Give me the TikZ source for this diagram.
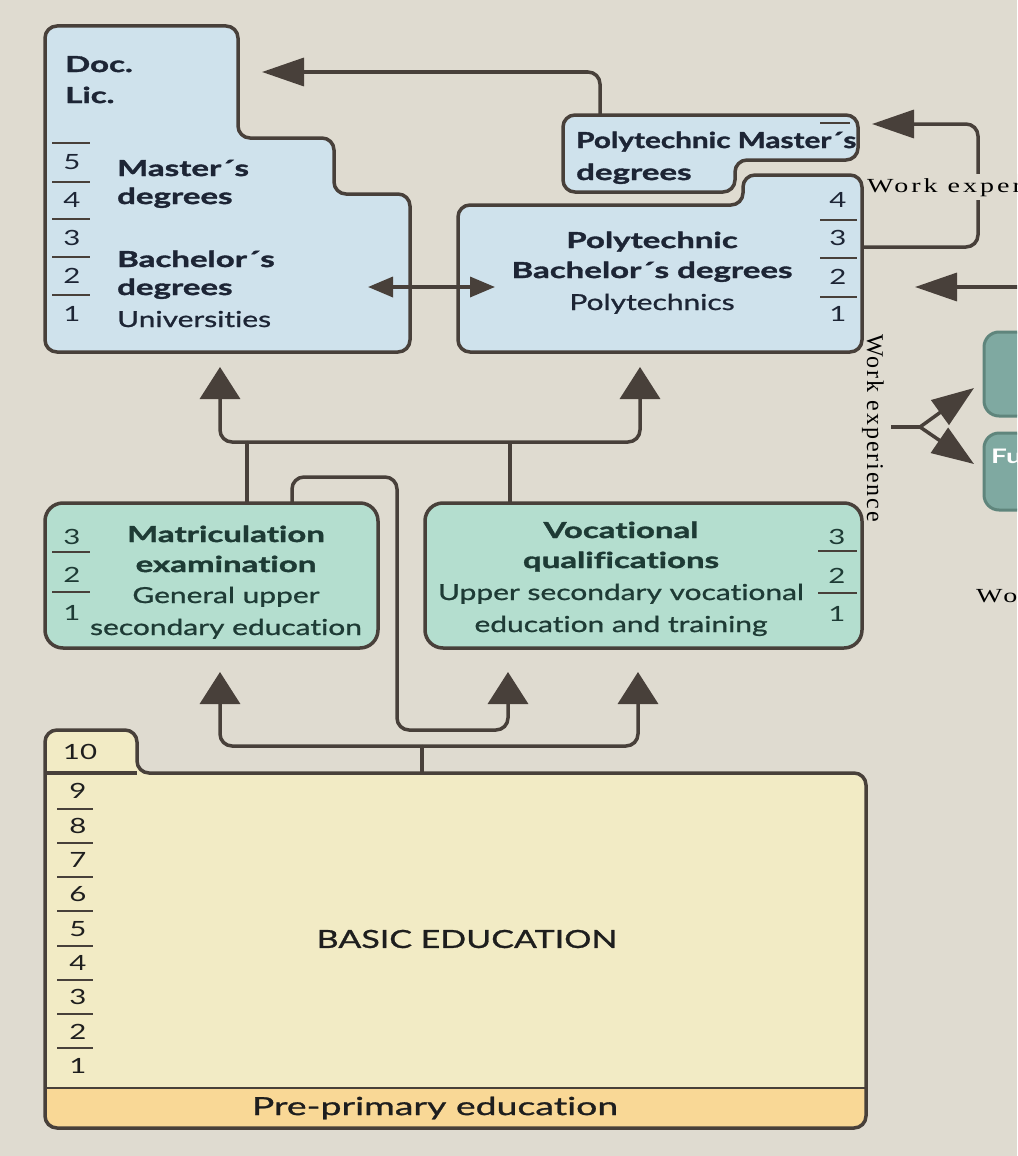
\documentclass[tikz,border=0pt]{standalone}
\usepackage{fontspec}
\setmainfont{Lato}[FakeStretch=1.4]
\newfontfamily\headfont{Lato}[FakeStretch=1.5, Ligatures=NoCommon, BoldFeatures={FakeBold=1.6}]
\newfontfamily\namefont{Lato}[FakeStretch=1.36, Ligatures=NoCommon, FakeBold=1.0]
\newfontfamily\serifwide{Liberation Serif}[FakeStretch=1.4, LetterSpace=15]
\newfontfamily\serifspaced{Liberation Serif}[LetterSpace=8]
\usetikzlibrary{arrows.meta}

\definecolor{bg}{HTML}{DFDBD0}
\definecolor{edge}{HTML}{48403A}
\definecolor{unifill}{HTML}{CFE2EC}
\definecolor{tealfill}{HTML}{B4DECF}
\definecolor{basicfill}{HTML}{F2EBC5}
\definecolor{prefill}{HTML}{F9D896}
\definecolor{darkteal}{HTML}{7FA9A1}
\definecolor{darktealedge}{HTML}{5F857C}
\definecolor{navytext}{HTML}{1D2535}
\definecolor{greentext}{HTML}{1E3B35}
\definecolor{basictext}{HTML}{1E1E1E}

\begin{document}
\begin{tikzpicture}[x=1pt, y=-1pt,
  box/.style={draw=edge, line width=3.5pt, rounded corners=12pt},
  link/.style={draw=edge, line width=3.5pt, rounded corners=12pt},
  uparrow/.style={link, -{Triangle[length=32pt,width=40pt]}},
  sidearrow/.style={link, -{Triangle[length=42pt,width=28pt]}},
  rule/.style={draw=edge, line width=2.5pt},
  hd/.style={inner sep=0pt, font=\headfont\bfseries\fontsize{22}{22}\selectfont},
  nm/.style={inner sep=0pt, font=\namefont\fontsize{22}{22}\selectfont},
  num/.style={inner sep=0pt, font=\fontsize{21}{21}\selectfont},
]
\useasboundingbox (0,0) rectangle (1017,1156);
\clip (0,0) rectangle (1017,1156);
\fill[bg] (0,0) rectangle (1017,1156);

% ---------- Universities ----------
\draw[box, fill=unifill] (45,352) -- (45,26) -- (238,26) -- (238,138) -- (334,138)
  -- (334,194) -- (410,194) -- (410,352) -- cycle;
\begin{scope}[navytext]
\node[hd, anchor=base west] (doc) at (65,72) {Doc.};
\node[hd, anchor=base west] (lic) at (65,103) {Lic.};
\node[hd, anchor=base west] (um1) at (117,176) {Master´s};
\node[hd, anchor=base west] (um2) at (117,204) {degrees};
\node[hd, anchor=base west] (ub1) at (117,267) {Bachelor´s};
\node[hd, anchor=base west] (ub2) at (117,295) {degrees};
\node[nm, anchor=base west] (uu) at (117,327) {Universities};
\foreach \n/\y in {5/162,4/200,3/238,2/276,1/314}
  \node[num] (un\n) at (72,\y) {\n};
\end{scope}
\foreach \y in {143,182,219,257,295} \draw[rule] (52,\y) -- (90,\y);

% ---------- Polytechnic Master's degrees ----------
\draw[box, fill=unifill] (563,192) -- (563,115) -- (858,115) -- (858,160) -- (735,160)
  -- (735,192) -- cycle;
\begin{scope}[navytext]
\node[hd, anchor=base west] (pm1) at (576,148) {\scalebox{0.9}[1]{Polytechnic Master´s}};
\node[hd, anchor=base west] (pm2) at (576,180) {degrees};
\end{scope}
\draw[rule] (820,123) -- (850,123);

% ---------- Polytechnic Bachelor's degrees ----------
\draw[box, fill=unifill] (458,352) -- (458,205) -- (743,205) -- (743,175) -- (862,175)
  -- (862,352) -- cycle;
\begin{scope}[navytext]
\node[hd, anchor=base] (pb1) at (652,248) {Polytechnic};
\node[hd, anchor=base] (pb2) at (652,278) {Bachelor´s degrees};
\node[nm, anchor=base] (pb3) at (652,310) {Polytechnics};
\foreach \n/\y in {4/200,3/238,2/277,1/314}
  \node[num] (pn\n) at (838,\y) {\n};
\end{scope}
\foreach \y in {220,258,297} \draw[rule] (820,\y) -- (857,\y);

% ---------- Upper secondary ----------
\draw[box, fill=tealfill, rounded corners=18pt] (45,503) rectangle (378,648);
\begin{scope}[greentext]
\node[hd, anchor=base] (mt1) at (226,542) {Matriculation};
\node[hd, anchor=base] (mt2) at (226,572) {examination};
\node[nm, anchor=base] (mt3) at (226,603) {General upper};
\node[nm, anchor=base] (mt4) at (226,635) {secondary education};
\foreach \n/\y in {3/537,2/575,1/613}
  \node[num] (mn\n) at (72,\y) {\n};
\end{scope}
\foreach \y in {552,592} \draw[rule] (52,\y) -- (90,\y);

\draw[box, fill=tealfill, rounded corners=18pt] (425,503) rectangle (862,648);
\begin{scope}[greentext]
\node[hd, anchor=base] (vq1) at (621,538) {Vocational};
\node[hd, anchor=base] (vq2) at (621,568) {qualifications};
\node[nm, anchor=base] (vq3) at (621,600) {Upper secondary vocational};
\node[nm, anchor=base] (vq4) at (621,632) {education and training};
\foreach \n/\y in {3/537,2/576,1/614}
  \node[num] (vn\n) at (837,\y) {\n};
\end{scope}
\foreach \y in {551,593} \draw[rule] (818,\y) -- (857,\y);

% ---------- Basic education ----------
\begin{scope}
  \clip[rounded corners=12pt] (45,1128) -- (45,730) -- (137,730) -- (137,773)
    -- (866,773) -- (866,1128) -- cycle;
  \fill[basicfill] (30,700) rectangle (880,1140);
  \fill[prefill] (30,1088) rectangle (880,1140);
\end{scope}
\draw[rule] (45,1088) -- (866,1088);
\draw[box] (45,1128) -- (45,730) -- (137,730) -- (137,773) -- (866,773)
  -- (866,1128) -- cycle;
\draw[rule, line width=3.5pt] (45,773) -- (137,773);
\begin{scope}[basictext]
\node[num] (bn10) at (80,752) {10};
\foreach \n/\y in {9/791,8/826,7/860,6/894,5/929,4/963,3/997,2/1032,1/1066}
  \node[num] (bn\n) at (78,\y) {\n};
\node[inner sep=0pt, font=\namefont\fontsize{25}{25}\selectfont] (basic) at (467,939) {BASIC EDUCATION};
\node[inner sep=0pt, font=\namefont\fontsize{25}{25}\selectfont] (pre) at (435,1108) {\scalebox{1.1}[1]{Pre-primary education}};
\end{scope}
\foreach \y in {809,843,877,911,946,980,1014,1048} \draw[rule] (57,\y) -- (93,\y);

% ---------- Connection points ----------
\coordinate (pmTop) at (600,115);
\coordinate (docIn) at (262,72);
\coordinate (uniR) at (368,287);
\coordinate (pbL) at (495,287);
\coordinate (pbR) at (862,247);
\coordinate (pmR) at (872,124);
\coordinate (eastIn) at (1030,287);
\coordinate (pbIn) at (915,287);
\coordinate (uniBot) at (220,367);
\coordinate (pbBot) at (640,367);
\coordinate (mtTop) at (247,503);
\coordinate (mtTop2) at (292,503);
\coordinate (vqTop) at (510,503);
\coordinate (upBar) at (247,442);
\coordinate (vqBar) at (510,442);
\coordinate (mtBot) at (220,672);
\coordinate (vqBot1) at (508,672);
\coordinate (vqBot2) at (638,672);
\coordinate (basicTop) at (422,773);
\coordinate (lowBar) at (422,746);
\coordinate (forkStart) at (891,427);
\coordinate (fork) at (920,427);
\coordinate (forkUp) at (974,388);
\coordinate (forkDown) at (974,464);

% ---------- Connectors ----------
\draw[sidearrow] (pmTop) |- (docIn);
\draw[link, {Triangle[length=25pt,width=20pt]}-{Triangle[length=25pt,width=20pt]}] (uniR) -- (pbL);
\draw[sidearrow] (pbR) -- (978,247) -- (978,124) -- (pmR);
\draw[sidearrow] (eastIn) -- (pbIn);

\draw[link] (mtTop) -- (upBar);
\draw[link] (vqTop) -- (vqBar);
\draw[uparrow] (upBar) -| (uniBot);
\draw[uparrow] (upBar) -| (pbBot);
\draw[uparrow] (mtTop2) -- (292,477) -- (397,477) -- (397,730) -- (508,730) -- (vqBot1);
\draw[link] (basicTop) -- (lowBar);
\draw[uparrow] (lowBar) -| (mtBot);
\draw[uparrow] (lowBar) -| (vqBot2);

\draw[link] (forkStart) -- (fork);
\draw[link, -{Triangle[length=42pt,width=30pt]}] (fork) -- (forkUp);
\draw[link, -{Triangle[length=42pt,width=30pt]}] (fork) -- (forkDown);

% ---------- Work experience labels ----------
\node[anchor=base west, fill=bg, inner xsep=1pt, inner ysep=4pt,
  font=\serifwide\fontsize{20}{20}\selectfont] (wexpTop) at (866,192) {Work experience};
\node[rotate=-90, inner sep=0pt, font=\serifspaced\fontsize{24}{24}\selectfont]
  (wexpSide) at (873,428) {Work experience};
\node[anchor=base west, inner sep=0pt,
  font=\serifwide\fontsize{20}{20}\selectfont] (wexpLow) at (976,602) {Work experience};

% ---------- Further boxes at the right ----------
\draw[draw=darktealedge, line width=3pt, fill=darkteal, rounded corners=15pt]
  (984,332) rectangle (1050,416);
\draw[draw=darktealedge, line width=3pt, fill=darkteal, rounded corners=15pt]
  (984,433) rectangle (1050,510);
\node[anchor=base west, inner sep=0pt, text=white,
  font=\bfseries\fontsize{20}{20}\selectfont] (fu) at (991,463) {Fu};
\end{tikzpicture}
\end{document}
